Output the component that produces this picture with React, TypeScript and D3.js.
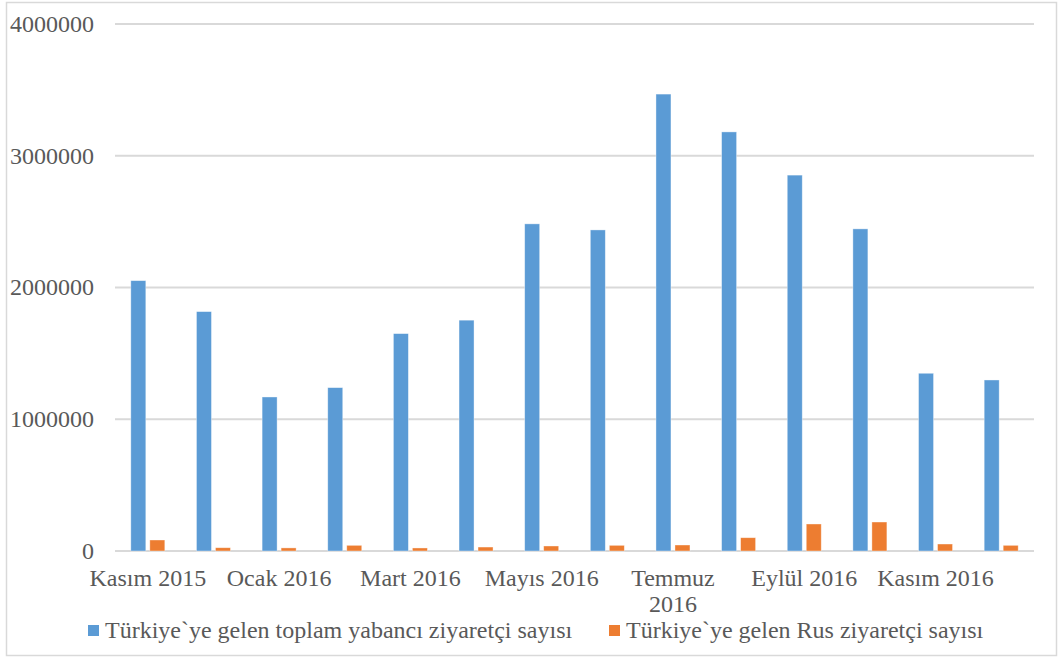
import * as d3 from "d3";
import { useEffect, useRef } from "react";

const months = [
	"Kasım 2015", "Aralık 2015", "Ocak 2016", "Şubat 2016", "Mart 2016", "Nisan 2016", "Mayıs 2016",
	"Haziran 2016", "Temmuz 2016", "Ağustos 2016", "Eylül 2016", "Ekim 2016", "Kasım 2016", "Aralık 2016",
];
const totalVisitors = [
	2052000, 1817000, 1169000, 1240000, 1650000, 1752000, 2483000,
	2437000, 3468000, 3181000, 2853000, 2445000, 1349000, 1298000,
];
const russianVisitors = [
	83500, 25000, 23500, 43000, 23000, 30000, 38000,
	43000, 45500, 101000, 205000, 220000, 53000, 43000,
];
const seriesNames = [
	"Türkiye`ye gelen toplam yabancı ziyaretçi sayısı",
	"Türkiye`ye gelen Rus ziyaretçi sayısı",
];
const yTicks = [0, 1000000, 2000000, 3000000, 4000000];

const W = 1062;
const H = 659;
const FONT = "'Liberation Serif', 'Times New Roman', serif";
const TEXT = "#595959";
const GRID = "#d9d9d9";
const COLORS = ["#5b9bd5", "#ed7d31"];

function App() {
	const ref = useRef<SVGSVGElement>(null);

	useEffect(() => {
		const svg = d3.select(ref.current);
		svg.selectAll("*").remove();

		const margin = { left: 115, right: 28, top: 24, bottom: 108 };
		const plotW = W - margin.left - margin.right;
		const plotH = H - margin.top - margin.bottom;

		svg.append("rect")
			.attr("x", 6.5)
			.attr("y", 2.5)
			.attr("width", W - 12)
			.attr("height", 653)
			.attr("fill", "white")
			.attr("stroke", GRID)
			.attr("stroke-width", 1.5);

		const g = svg.append("g").attr("transform", `translate(${margin.left},${margin.top})`);

		const x0 = d3.scaleBand().domain(months).range([0, plotW]).paddingInner(0).paddingOuter(0);
		const groupW = 34;
		const x1 = d3.scaleBand().domain(["0", "1"]).range([0, groupW]).paddingInner(0.211);
		const y = d3.scaleLinear().domain([0, 4000000]).range([plotH, 0]);

		// gridlines
		g.selectAll(".grid")
			.data(yTicks)
			.enter()
			.append("line")
			.attr("x1", 0)
			.attr("x2", plotW)
			.attr("y1", (d) => y(d))
			.attr("y2", (d) => y(d))
			.attr("stroke", GRID)
			.attr("stroke-width", 2);

		// y labels
		g.selectAll(".ylab")
			.data(yTicks)
			.enter()
			.append("text")
			.attr("x", -21)
			.attr("y", (d) => y(d))
			.attr("dy", "0.33em")
			.attr("text-anchor", "end")
			.attr("font-family", FONT)
			.attr("font-size", 24)
			.attr("fill", TEXT)
			.text((d) => d3.format("d")(d));

		const series = [totalVisitors, russianVisitors];
		series.forEach((vals, si) => {
			g.selectAll(".bar" + si)
				.data(vals)
				.enter()
				.append("rect")
				.attr("x", (d, i) => (x0(months[i]) as number) + (x0.bandwidth() - groupW) / 2 + (x1(String(si)) as number))
				.attr("y", (d) => y(d))
				.attr("width", x1.bandwidth())
				.attr("height", (d) => plotH - y(d))
				.attr("fill", COLORS[si])
				.attr("stroke", "white")
				.attr("stroke-opacity", 0.5)
				.attr("stroke-width", 0.75);
		});

		// category labels, every other one; long ones wrap onto two lines
		const shown = months.filter((m, i) => i % 2 === 0);
		shown.forEach((d) => {
			const cx = (x0(d) as number) + x0.bandwidth() / 2;
			const t = g.append("text")
				.attr("x", cx)
				.attr("y", plotH + 35)
				.attr("text-anchor", "middle")
				.attr("font-family", FONT)
				.attr("font-size", 24)
				.attr("fill", TEXT)
				.text(d);
			const len = (t.node() as SVGTextElement).getComputedTextLength();
			if (len > x0.bandwidth() * 2 - 6) {
				const parts = d.split(" ");
				t.text(parts[0]);
				g.append("text")
					.attr("x", cx)
					.attr("y", plotH + 35 + 25.5)
					.attr("text-anchor", "middle")
					.attr("font-family", FONT)
					.attr("font-size", 24)
					.attr("fill", TEXT)
					.text(parts.slice(1).join(" "));
			}
		});

		// legend
		const legend = svg.append("g");
		const items = [
			{ x: 88, name: seriesNames[0], color: COLORS[0] },
			{ x: 609, name: seriesNames[1], color: COLORS[1] },
		];
		items.forEach((it) => {
			legend.append("rect")
				.attr("x", it.x)
				.attr("y", 625)
				.attr("width", 11)
				.attr("height", 11)
				.attr("fill", it.color);
			legend.append("text")
				.attr("x", it.x + 17)
				.attr("y", 637.5)
				.attr("font-family", FONT)
				.attr("font-size", 24)
				.attr("fill", TEXT)
				.text(it.name);
		});
	}, []);

	return (
		<svg
			ref={ref}
			width={W}
			height={H}
			style={{ position: "absolute", left: 0, top: 0, background: "white" }}
		/>
	);
}

export default App;
